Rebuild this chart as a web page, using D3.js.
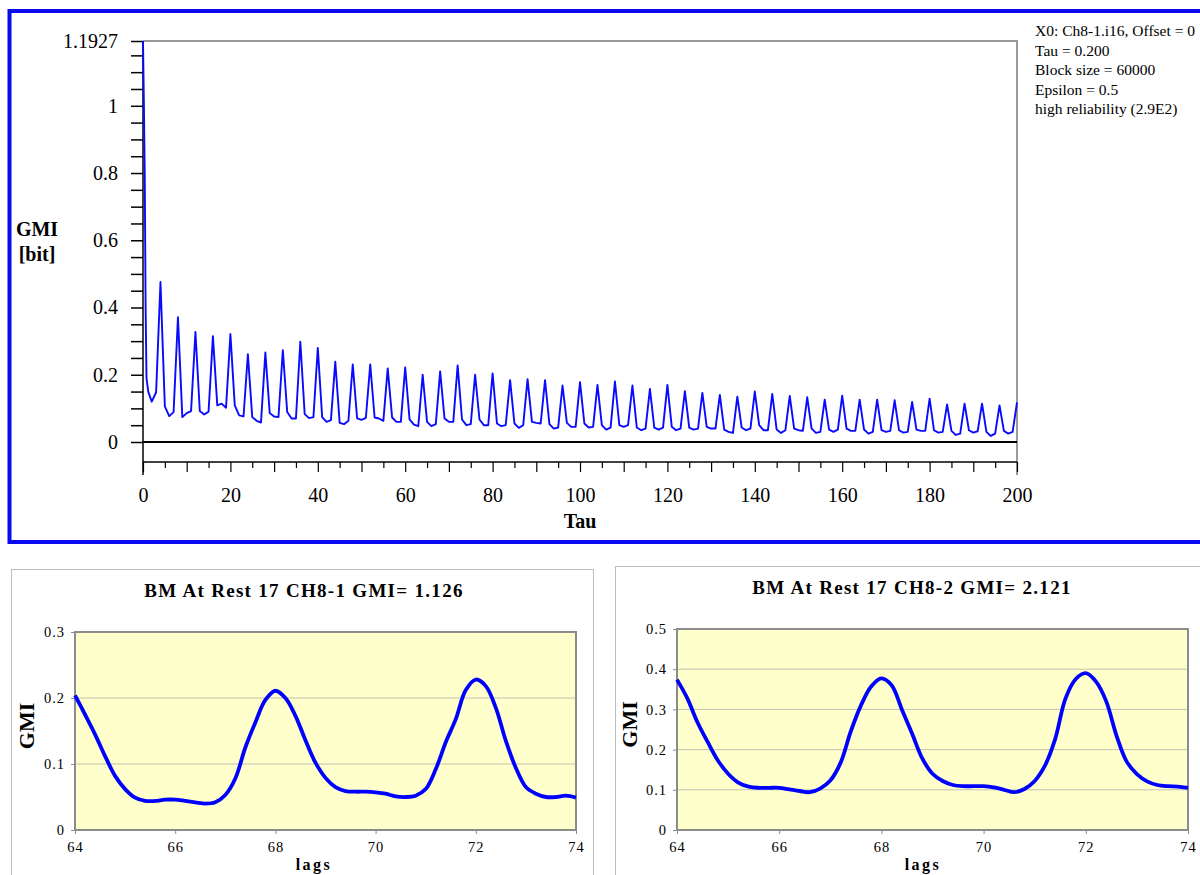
<!DOCTYPE html>
<html>
<head>
<meta charset="utf-8">
<script src="https://cdn.jsdelivr.net/npm/d3@7"></script>
<style>
body { margin: 0; background: #fff; }
text { font-family: "Liberation Serif", "Times New Roman", serif; fill: #000; }
</style>
</head>
<body>
<div id="svg-container"></div>
<script>
const width = 1200;
const height = 875;

// ********* TOP CHART DATA (GMI vs Tau) *********
// first steep drop, read at fine tau steps
var decayTau = [0, 0.2, 0.4, 0.6, 0.8, 1.2];
var decayGmi = [1.1927, 1.01, 0.79, 0.40, 0.19, 0.15];
// then one value per tau unit, tau = 2 .. 200
var gmiTau = d3.range(2, 201);
var gmiVals = [
  0.120, 0.148,
  0.476, 0.106, 0.077, 0.089,
  0.371, 0.074, 0.086, 0.092,
  0.327, 0.092, 0.082, 0.090,
  0.315, 0.109, 0.114, 0.102,
  0.321, 0.109, 0.079, 0.076,
  0.261, 0.074, 0.063, 0.058,
  0.266, 0.086, 0.076, 0.074,
  0.273, 0.089, 0.070, 0.070,
  0.298, 0.083, 0.071, 0.074,
  0.280, 0.074, 0.060, 0.065,
  0.239, 0.057, 0.053, 0.063,
  0.231, 0.070, 0.066, 0.072,
  0.231, 0.073, 0.070, 0.063,
  0.219, 0.073, 0.060, 0.060,
  0.222, 0.067, 0.052, 0.047,
  0.200, 0.060, 0.047, 0.053,
  0.210, 0.070, 0.060, 0.060,
  0.228, 0.067, 0.050, 0.053,
  0.200, 0.067, 0.050, 0.050,
  0.204, 0.055, 0.047, 0.050,
  0.184, 0.055, 0.042, 0.050,
  0.187, 0.060, 0.057, 0.055,
  0.184, 0.053, 0.040, 0.043,
  0.168, 0.057, 0.045, 0.045,
  0.178, 0.055, 0.043, 0.045,
  0.170, 0.050, 0.037, 0.043,
  0.180, 0.050, 0.045, 0.050,
  0.168, 0.043, 0.035, 0.040,
  0.158, 0.043, 0.037, 0.043,
  0.170, 0.045, 0.035, 0.040,
  0.151, 0.043, 0.037, 0.040,
  0.146, 0.045, 0.040, 0.040,
  0.140, 0.037, 0.030, 0.027,
  0.135, 0.043, 0.035, 0.040,
  0.150, 0.050, 0.035, 0.035,
  0.143, 0.037, 0.027, 0.035,
  0.137, 0.040, 0.035, 0.033,
  0.133, 0.040, 0.027, 0.030,
  0.126, 0.037, 0.030, 0.037,
  0.138, 0.040, 0.033, 0.033,
  0.126, 0.037, 0.025, 0.030,
  0.126, 0.035, 0.030, 0.033,
  0.124, 0.035, 0.028, 0.030,
  0.119, 0.037, 0.033, 0.033,
  0.129, 0.035, 0.028, 0.030,
  0.112, 0.033, 0.021, 0.025,
  0.114, 0.035, 0.028, 0.032,
  0.114, 0.030, 0.018, 0.025,
  0.109, 0.033, 0.025, 0.030,
  0.118
];
var yLabelVals = [0, 0.2, 0.4, 0.6, 0.8, 1, 1.1927];
var xLabelVals = [0, 20, 40, 60, 80, 100, 120, 140, 160, 180, 200];
var infoLines = ["X0: Ch8-1.i16, Offset = 0", "Tau = 0.200", "Block size = 60000",
  "Epsilon = 0.5", "high reliability (2.9E2)"];

// ********* BOTTOM CHARTS DATA (lags 64..74, step 0.2) *********
var lags = d3.range(0, 51).map(function(i){ return 64 + i * 0.2; });
var ch1Gmi = [
  0.204, 0.175, 0.145, 0.112, 0.082, 0.062, 0.049, 0.044, 0.044, 0.046,
  0.046, 0.044, 0.042, 0.040, 0.042, 0.053, 0.078, 0.125, 0.163, 0.197,
  0.211, 0.200, 0.173, 0.136, 0.102, 0.079, 0.065, 0.059, 0.058, 0.058,
  0.057, 0.055, 0.051, 0.050, 0.052, 0.062, 0.092, 0.133, 0.168, 0.212,
  0.228, 0.218, 0.185, 0.135, 0.094, 0.065, 0.055, 0.050, 0.050, 0.052,
  0.049
];
var ch2Gmi = [
  0.374, 0.328, 0.268, 0.219, 0.173, 0.140, 0.118, 0.108, 0.105, 0.105,
  0.105, 0.101, 0.097, 0.094, 0.103, 0.123, 0.167, 0.245, 0.310, 0.357,
  0.377, 0.360, 0.300, 0.240, 0.178, 0.140, 0.122, 0.112, 0.109, 0.109,
  0.109, 0.106, 0.100, 0.094, 0.102, 0.122, 0.160, 0.226, 0.326, 0.375,
  0.390, 0.369, 0.320, 0.235, 0.170, 0.139, 0.121, 0.112, 0.109, 0.108,
  0.105
];
var lagTicks = [64, 66, 68, 70, 72, 74];
var ch1Ticks = [0, 0.1, 0.2, 0.3];
var ch2Ticks = [0, 0.1, 0.2, 0.3, 0.4, 0.5];
var ch1Title = "BM At Rest 17 CH8-1 GMI= 1.126";
var ch2Title = "BM At Rest 17 CH8-2 GMI= 2.121";

// ********* Create SVG *********
var svg = d3.select("#svg-container").append("svg")
  .attr("width", width)
  .attr("height", height);

// ******** TOP FRAME *********
svg.append("rect")
  .attr("x", 9.5).attr("y", 11)
  .attr("width", 1210).attr("height", 531)
  .attr("fill", "none")
  .attr("stroke", "#0a0aee")
  .attr("stroke-width", 4);

var plot = {left: 143, right: 1017, top: 41, zero: 442, axis: 462, bottom: 475};

var x = d3.scaleLinear().domain([0, 200]).range([plot.left, plot.right]);
var y = d3.scaleLinear().domain([0, 1.1927]).range([plot.zero, plot.top]);

var top_g = svg.append("g").attr("id", "top-chart");

// top and right border of the plot
top_g.append("path")
  .attr("d", `M${plot.left},${plot.top}H${plot.right}V${plot.bottom}`)
  .attr("fill", "none").attr("stroke", "#7a7a7a").attr("stroke-width", 1.5);

// y axis: minor ticks every 0.05 plus the top value
var yTicks = d3.range(0, 1.151, 0.05).concat([1.1927]);
var y_axis = d3.axisLeft(y)
  .tickValues(yTicks)
  .tickSize(12)
  .tickPadding(13)
  .tickFormat(function(d){
    var hit = yLabelVals.find(function(v){ return Math.abs(v - d) < 1e-6; });
    return hit === undefined ? "" : (hit === 1.1927 ? "1.1927" : d3.format("~g")(hit));
  });
top_g.append("g")
  .attr("transform", `translate(${plot.left},0)`)
  .call(y_axis)
  .call(function(g){ g.select(".domain").remove(); })
  .call(function(g){
    g.selectAll("line").attr("stroke", "#000").attr("stroke-width", 1.5);
    g.selectAll("text").style("font-size", "20px")
      .style("font-family", "'Liberation Serif', serif");
  });

// y axis line, running below zero
top_g.append("line")
  .attr("x1", plot.left).attr("x2", plot.left)
  .attr("y1", plot.top).attr("y2", plot.bottom)
  .attr("stroke", "#000").attr("stroke-width", 1.5);

// zero line
top_g.append("line")
  .attr("x1", plot.left).attr("x2", plot.right)
  .attr("y1", y(0)).attr("y2", y(0))
  .attr("stroke", "#000").attr("stroke-width", 2);

// x axis: minor ticks every 5, longer every 10, labels every 20
var x_minor = d3.axisBottom(x)
  .tickValues(d3.range(5, 200, 10))
  .tickSize(6)
  .tickFormat("");
var x_major = d3.axisBottom(x)
  .tickValues(d3.range(0, 201, 10))
  .tickSize(10)
  .tickPadding(16)
  .tickFormat(function(d){ return xLabelVals.indexOf(d) >= 0 ? d : ""; });
top_g.append("g")
  .attr("transform", `translate(0,${plot.axis})`)
  .call(x_minor)
  .call(function(g){
    g.select(".domain").remove();
    g.selectAll("line").attr("stroke", "#000").attr("stroke-width", 1.2);
  });
top_g.append("g")
  .attr("transform", `translate(0,${plot.axis})`)
  .call(x_major)
  .call(function(g){
    g.select(".domain").attr("stroke", "#000").attr("stroke-width", 1.5).attr("d", `M${plot.left},0H${plot.right}`);
    g.selectAll("line").attr("stroke", "#000").attr("stroke-width", 1.2);
    g.selectAll("text").style("font-size", "20px")
      .style("font-family", "'Liberation Serif', serif");
  });

// axis titles
top_g.append("text").attr("x", 37).attr("y", 236)
  .attr("text-anchor", "middle").style("font-size", "20px").style("font-weight", "bold").text("GMI");
top_g.append("text").attr("x", 37).attr("y", 261)
  .attr("text-anchor", "middle").style("font-size", "20px").style("font-weight", "bold").text("[bit]");
top_g.append("text").attr("x", (plot.left + plot.right) / 2).attr("y", 528)
  .attr("text-anchor", "middle").style("font-size", "20px").style("font-weight", "bold").text("Tau");

// info block
top_g.append("g").selectAll("text")
  .data(infoLines)
  .enter().append("text")
  .attr("x", 1035)
  .attr("y", function(d, i){ return 36 + i * 19.6; })
  .style("font-size", "15.5px")
  .text(function(d){ return d; });

// GMI line
var topPoints = decayTau.map(function(t, i){ return [t, decayGmi[i]]; })
  .concat(gmiTau.map(function(t, i){ return [t, gmiVals[i]]; }));
var topLine = d3.line()
  .x(function(d){ return x(d[0]); })
  .y(function(d){ return y(d[1]); });
top_g.append("path")
  .datum(topPoints)
  .attr("d", topLine)
  .attr("fill", "none")
  .attr("stroke", "#0a0aff")
  .attr("stroke-width", 1.9)
  .attr("stroke-linejoin", "round");

// ********* BOTTOM PANELS *********
function drawPanel(cfg){
  var g = svg.append("g");
  // outer chart box
  g.append("rect")
    .attr("x", cfg.box[0] + 0.5).attr("y", cfg.box[1] + 0.5)
    .attr("width", cfg.box[2]).attr("height", cfg.box[3])
    .attr("fill", "#fff").attr("stroke", "#bdbdbd").attr("stroke-width", 1);

  var px = d3.scaleLinear().domain([64, 74]).range([cfg.left, cfg.right]);
  var py = d3.scaleLinear().domain([0, d3.max(cfg.ticks)]).range([cfg.bottom, cfg.top]);

  // plot area
  g.append("rect")
    .attr("x", cfg.left).attr("y", cfg.top)
    .attr("width", cfg.right - cfg.left).attr("height", cfg.bottom - cfg.top)
    .attr("fill", "#ffffcc");

  // gridlines
  g.append("g").selectAll("line")
    .data(cfg.ticks.slice(1, -1))
    .enter().append("line")
    .attr("x1", cfg.left).attr("x2", cfg.right)
    .attr("y1", function(d){ return py(d); }).attr("y2", function(d){ return py(d); })
    .attr("stroke", "#c2c2b4").attr("stroke-width", 1);

  g.append("rect")
    .attr("x", cfg.left).attr("y", cfg.top)
    .attr("width", cfg.right - cfg.left).attr("height", cfg.bottom - cfg.top)
    .attr("fill", "none").attr("stroke", "#8c8c8c").attr("stroke-width", 2);

  var y_ax = d3.axisLeft(py).tickValues(cfg.ticks).tickSize(4).tickPadding(6)
    .tickFormat(function(d){ return d === 0 ? "0" : d3.format(".1f")(d); });
  g.append("g").attr("transform", `translate(${cfg.left},0)`)
    .call(y_ax)
    .call(function(a){
      a.select(".domain").remove();
      a.selectAll("line").attr("stroke", "#8c8c8c");
      a.selectAll("text").style("font-size", "14.5px").style("letter-spacing", "1px")
        .style("font-family", "'Liberation Serif', serif");
    });

  var x_ax = d3.axisBottom(px).tickValues(lagTicks).tickSize(4).tickPadding(8);
  g.append("g").attr("transform", `translate(0,${cfg.bottom})`)
    .call(x_ax)
    .call(function(a){
      a.select(".domain").remove();
      a.selectAll("line").attr("stroke", "#8c8c8c");
      a.selectAll("text").style("font-size", "14.5px").style("letter-spacing", "1px")
        .style("font-family", "'Liberation Serif', serif");
    });

  var line = d3.line()
    .x(function(d, i){ return px(lags[i]); })
    .y(function(d){ return py(d); })
    .curve(d3.curveCatmullRom.alpha(0.5));
  g.append("path")
    .datum(cfg.values)
    .attr("d", line)
    .attr("fill", "none")
    .attr("stroke", "#0000ff")
    .attr("stroke-width", 3.8)
    .attr("stroke-linejoin", "round");

  g.append("text")
    .attr("x", cfg.titleX).attr("y", cfg.box[1] + 28)
    .attr("text-anchor", "middle")
    .style("font-size", "19px").style("font-weight", "bold").style("letter-spacing", "1.3px")
    .text(cfg.title);

  g.append("text")
    .attr("transform", `translate(${cfg.gmiX},${(cfg.top + cfg.bottom) / 2 - 5}) rotate(-90)`)
    .attr("text-anchor", "middle")
    .style("font-size", "22px").style("font-weight", "bold")
    .text("GMI");

  g.append("text")
    .attr("x", cfg.lagsX).attr("y", 870)
    .attr("text-anchor", "middle")
    .style("font-size", "16px").style("font-weight", "bold").style("letter-spacing", "2.5px")
    .text("lags");
}

drawPanel({
  box: [11, 569, 582, 330],
  left: 75, right: 576, top: 632, bottom: 830,
  ticks: ch1Ticks, values: ch1Gmi, title: ch1Title,
  titleX: 304, gmiX: 34, lagsX: 314
});
drawPanel({
  box: [615, 566, 600, 330],
  left: 677, right: 1188, top: 629, bottom: 830,
  ticks: ch2Ticks, values: ch2Gmi, title: ch2Title,
  titleX: 912, gmiX: 637, lagsX: 923
});
</script>
</body>
</html>
